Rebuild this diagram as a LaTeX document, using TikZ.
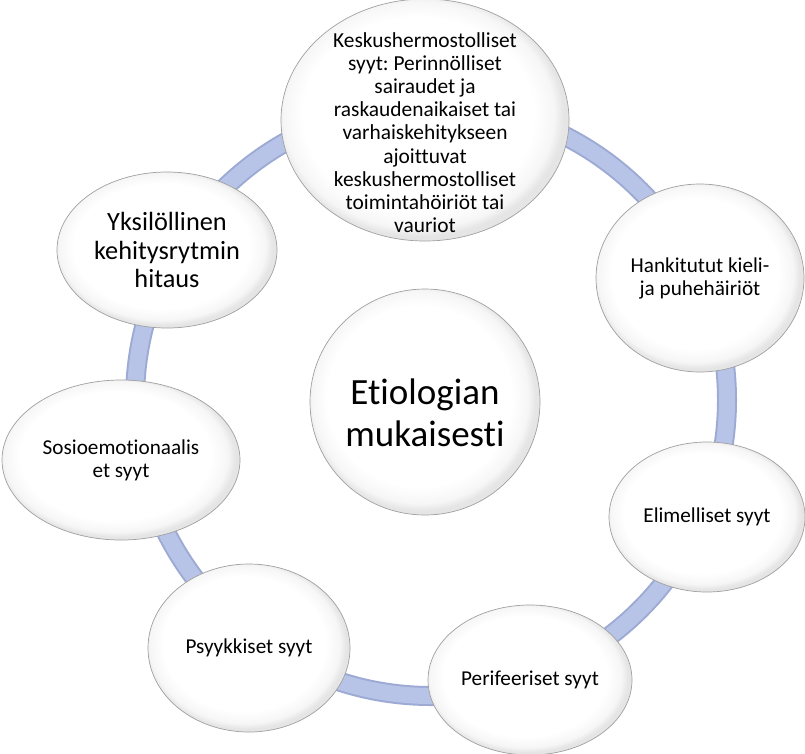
\documentclass[tikz,border=0pt]{standalone}
\usepackage{fontspec}
\setmainfont{Carlito}[Ligatures = NoCommon]
\usetikzlibrary{shapes.geometric}
\frenchspacing

\definecolor{ringblue}{RGB}{183,196,232}
\definecolor{ringedge}{RGB}{156,170,212}
\definecolor{bubbleedge}{RGB}{160,160,160}

\pgfdeclareradialshading{bubbleshade}{\pgfpoint{-2bp}{2bp}}{color(0bp)=(white); color(20bp)=(white); color(23.5bp)=(gray!7); color(25bp)=(gray!20); color(50bp)=(gray!20)}

\tikzset{
	bubble/.style = {ellipse, draw = bubbleedge, line width = 0.7pt, shade, shading = bubbleshade, align = center, inner sep = -30pt},
	smalltext/.style = {font = \fontsize{21.2}{23}\selectfont}
}

\begin{document}
\begin{tikzpicture}[x = 1pt, y = -1pt]
	\useasboundingbox (0,0) rectangle (805,753);
	
	\draw[ringedge, line width = 20pt] (431,400) circle [radius = 296pt];
	\draw[ringblue, line width = 16pt] (431,400) circle [radius = 296pt];
	
	\node[bubble, minimum width = 288pt, minimum height = 242pt, font = \fontsize{21.4}{23.1}\selectfont] (cns) at (425,120) {\rule{0pt}{40pt}Keskushermostolliset\\syyt: Perinnölliset\\sairaudet ja\\raskaudenaikaiset tai\\varhaiskehitykseen\\ajoittuvat\\keskushermostolliset\\toimintahöiriöt tai\\vauriot};
	\node[bubble, smalltext, minimum width = 208pt, minimum height = 188pt] (acquired) at (700,278) {Hankitutut kieli-\\ja puhehäiriöt};
	\node[bubble, smalltext, minimum width = 196pt, minimum height = 150pt] (organic) at (707,517) {Elimelliset syyt};
	\node[bubble, smalltext, minimum width = 204pt, minimum height = 150pt] (peripheral) at (530,680) {Perifeeriset syyt};
	\node[bubble, smalltext, minimum width = 202pt, minimum height = 168pt] (psychic) at (249,648) {Psyykkiset syyt};
	\node[bubble, smalltext, minimum width = 238pt, minimum height = 160pt] (socio) at (121,460) {Sosioemotionaalis\\et syyt};
	\node[bubble, minimum width = 220pt, minimum height = 156pt, font = \fontsize{26.3}{28.3}\selectfont] (individual) at (167,250) {Yksilöllinen\\kehitysrytmin\\hitaus};
	
	\node[bubble, minimum width = 230pt, minimum height = 226pt, font = \fontsize{37}{42}\selectfont] (center) at (425,402) {\rule{0pt}{48pt}Etiologian\\mukaisesti};
\end{tikzpicture}
\end{document}
